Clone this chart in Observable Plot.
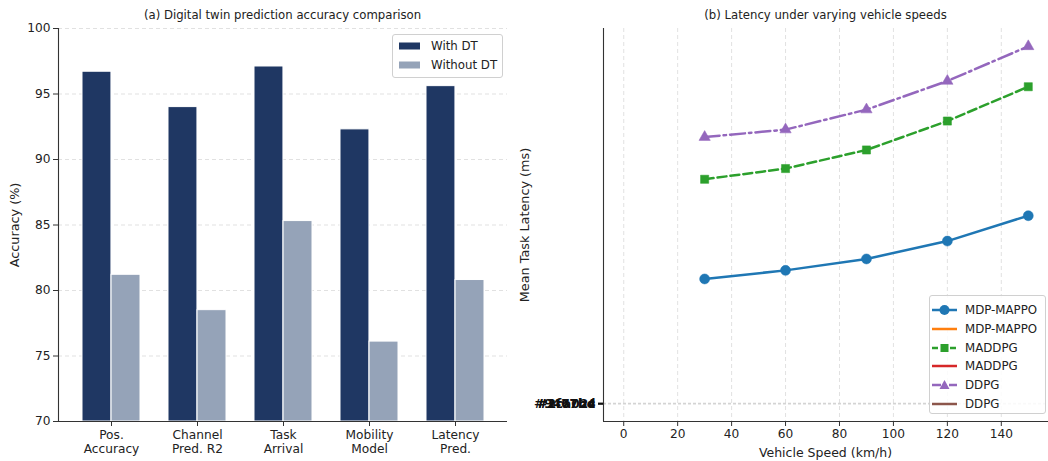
<!DOCTYPE html>
<html>
<head>
<meta charset="utf-8">
<script src="https://cdn.jsdelivr.net/npm/d3@7"></script>
<script src="https://cdn.jsdelivr.net/npm/@observablehq/plot@0.6"></script>
<style>
  html, body { margin: 0; padding: 0; background: white; }
  #wrap { position: relative; width: 1048px; height: 461px; overflow: hidden; font-family: "DejaVu Sans", sans-serif; color: #222; }
  .panel { position: absolute; top: 0; }
  .txt { position: absolute; white-space: nowrap; color: #222; line-height: 1; }
  .title { transform: translate(-50%, -50%); font-size: 11.7px; }
  .xlab { transform: translate(-50%, -50%); font-size: 12.5px; }
  .ylab { transform: translate(-50%, -50%) rotate(-90deg); font-size: 12.8px; }
  .legend { position: absolute; background: rgba(255,255,255,0.85); border: 1px solid #d0d0d0; border-radius: 3px; font-size: 11.8px; box-sizing: border-box; }
  .legend .row { position: absolute; left: 0; display: flex; align-items: center; height: 18px; }
  .legend svg { display: block; }
</style>
</head>
<body>
<div id="wrap"></div>
<script>
// ---------- data: panel (a) ----------
const categories = ["Pos.\nAccuracy", "Channel\nPred. R2", "Task\nArrival", "Mobility\nModel", "Latency\nPred."];
const withDT = [96.7, 94.0, 97.1, 92.3, 95.6];
const withoutDT = [81.2, 78.5, 85.3, 76.1, 80.8];
const accTicks = [70, 75, 80, 85, 90, 95, 100];
const barSeries = ["With DT", "Without DT"];

// ---------- data: panel (b) ----------
const speeds = [30, 60, 90, 120, 150];
const mdpMappo = [34.9, 37.3, 40.5, 45.5, 52.6];
const maddpg = [62.8, 65.8, 71.0, 79.1, 88.7];
const ddpg = [74.6, 76.7, 82.3, 90.3, 100.0];
const speedTicks = [0, 20, 40, 60, 80, 100, 120, 140];
const yTickLabels = ["#1f77b4", "#2ca02c", "#9467bd"];
const methodNames = ["MDP-MAPPO", "MADDPG", "DDPG"];

const wrap = document.getElementById("wrap");
const H = 461, mT = 28, mB = 40;
const font = {fontFamily: "DejaVu Sans", fontSize: "12.2px", color: "#222", background: "transparent", overflow: "visible"};

// ---------- panel (a) ----------
const W1 = 520, mL1 = 58, mR1 = 13;
const pIn = 0.33, pOut = 0.253;
const step = (W1 - mL1 - mR1) / (categories.length - pIn + 2 * pOut);
const bw = step * (1 - pIn);
const rowsWith = categories.map((c, i) => ({cat: c, v: withDT[i]}));
const rowsWithout = categories.map((c, i) => ({cat: c, v: withoutDT[i]}));
const darkC = "#1f3763", lightC = "#95a3b8";

const chartA = Plot.plot({
  width: W1, height: H, marginLeft: mL1, marginRight: mR1, marginTop: mT, marginBottom: mB,
  style: font,
  x: {type: "band", domain: categories, paddingInner: pIn, paddingOuter: pOut},
  y: {domain: [70, 100]},
  marks: [
    Plot.gridY(accTicks, {stroke: "#cfcfcf", strokeOpacity: 0.8, strokeDasharray: "4,3", strokeWidth: 0.8}),
    Plot.barY(rowsWith, {x: "cat", y1: 70, y2: "v", fill: darkC, stroke: "white", strokeWidth: 1, insetRight: bw / 2}),
    Plot.barY(rowsWithout, {x: "cat", y1: 70, y2: "v", fill: lightC, stroke: "white", strokeWidth: 1, insetLeft: bw / 2}),
    Plot.ruleY([70], {stroke: "#333", strokeWidth: 1.1}),
    Plot.frame({anchor: "left", stroke: "#333", strokeWidth: 1.1}),
    Plot.axisY({ticks: accTicks, tickSize: 5, tickPadding: 3, label: null, stroke: "#333", fill: "#222"}),
    Plot.axisX({tickSize: 5, tickPadding: 2, label: null, lineHeight: 1.17, stroke: "#333", fill: "#222"})
  ]
});
chartA.classList.add("panel");
chartA.style.left = "0px";
wrap.appendChild(chartA);

// ---------- panel (b) ----------
const W2 = 528, mL2 = 83, mR2 = 0;
const lineRows = [];
[mdpMappo, maddpg, ddpg].forEach((arr, k) => speeds.forEach((s, i) => lineRows.push({method: methodNames[k], speed: s, lat: arr[i]})));
const colors = {"MDP-MAPPO": "#1f77b4", "MADDPG": "#2ca02c", "DDPG": "#9467bd"};
const dashes = {"MDP-MAPPO": null, "MADDPG": "9,4", "DDPG": "15,4,2.5,4"};
const symbols = {"MDP-MAPPO": "circle", "MADDPG": "square", "DDPG": "triangle"};
const sizes = {"MDP-MAPPO": 5, "MADDPG": 4.6, "DDPG": 4.2};
const xDom = [-7.5, 157.5], yDom = [-5, 105];

const bMarks = [
  Plot.gridX(speedTicks, {stroke: "#cfcfcf", strokeOpacity: 0.8, strokeDasharray: "4,3", strokeWidth: 0.8}),
  Plot.gridY([0], {stroke: "#cfcfcf", strokeOpacity: 0.9, strokeDasharray: "3,2", strokeWidth: 1.6})
];
methodNames.forEach(m => {
  const d = lineRows.filter(r => r.method === m);
  bMarks.push(Plot.line(d, {x: "speed", y: "lat", stroke: colors[m], strokeWidth: 2.5, strokeDasharray: dashes[m]}));
  bMarks.push(Plot.dot(d, {x: "speed", y: "lat", fill: colors[m], stroke: colors[m], strokeWidth: 0.5, symbol: symbols[m], r: sizes[m]}));
});
bMarks.push(
  Plot.ruleX([xDom[0]], {stroke: "#333", strokeWidth: 1.1}),
  Plot.ruleY([yDom[0]], {stroke: "#333", strokeWidth: 1.1}),
  Plot.axisX({ticks: speedTicks, tickSize: 5, tickPadding: 3, label: null, stroke: "#333", fill: "#222"})
);
yTickLabels.forEach(lab => bMarks.push(
  Plot.axisY({ticks: [0], tickFormat: () => lab, tickSize: 5, tickPadding: 3, label: null, stroke: "#111", strokeWidth: 1.6, fill: "#111", fontWeight: "bold"})
));

const chartB = Plot.plot({
  width: W2, height: H, marginLeft: mL2, marginRight: mR2, marginTop: mT, marginBottom: mB,
  style: font,
  x: {domain: xDom},
  y: {domain: yDom},
  marks: bMarks
});
chartB.classList.add("panel");
chartB.style.left = "520px";
wrap.appendChild(chartB);

// ---------- titles and axis labels ----------
function addText(t, x, y, cls) {
  const d = document.createElement("div");
  d.className = "txt " + cls;
  d.textContent = t;
  d.style.left = x + "px";
  d.style.top = y + "px";
  wrap.appendChild(d);
}
addText("(a) Digital twin prediction accuracy comparison", 282.5, 16, "title");
addText("(b) Latency under varying vehicle speeds", 825.5, 16, "title");
addText("Accuracy (%)", 15, 224.5, "ylab");
addText("Mean Task Latency (ms)", 525, 224.5, "ylab");
addText("Vehicle Speed (km/h)", 825.5, 453, "xlab");

// ---------- legends ----------
function legend(x, y, w, h, entries, rowH, top0, textX) {
  const box = document.createElement("div");
  box.className = "legend";
  box.style.left = x + "px"; box.style.top = y + "px"; box.style.width = w + "px";
  box.style.height = h + "px";
  entries.forEach((e, i) => {
    const row = document.createElement("div");
    row.className = "row";
    row.style.top = (top0 + i * rowH - 9) + "px";
    row.innerHTML = `<svg width="${textX}" height="18">${e.svg}</svg><span>${e.label}</span>`;
    box.appendChild(row);
  });
  wrap.appendChild(box);
}
const sw = c => `<rect x="6" y="5.5" width="21" height="7" fill="${c}"/>`;
legend(392, 34, 111, 44, [
  {label: barSeries[0], svg: sw(darkC)},
  {label: barSeries[1], svg: sw(lightC)}
], 19, 11, 38);

const ln = (c, dash) => `<line x1="2" x2="27" y1="9" y2="9" stroke="${c}" stroke-width="2.5" ${dash ? `stroke-dasharray="${dash}"` : ""}/>`;
legend(929, 295, 117, 119, [
  {label: methodNames[0], svg: ln("#1f77b4") + `<circle cx="14.5" cy="9" r="5" fill="#1f77b4"/>`},
  {label: methodNames[0], svg: ln("#ff7f0e")},
  {label: methodNames[1], svg: ln("#2ca02c", "6,3") + `<rect x="10.5" y="5" width="8" height="8" fill="#2ca02c"/>`},
  {label: methodNames[1], svg: ln("#d62728")},
  {label: methodNames[2], svg: ln("#9467bd", "9,3,2,3") + `<path d="M14.5,4 L19.5,13 L9.5,13 Z" fill="#9467bd"/>`},
  {label: methodNames[2], svg: ln("#8c564b")}
], 18.8, 14, 35);
</script>
</body>
</html>
